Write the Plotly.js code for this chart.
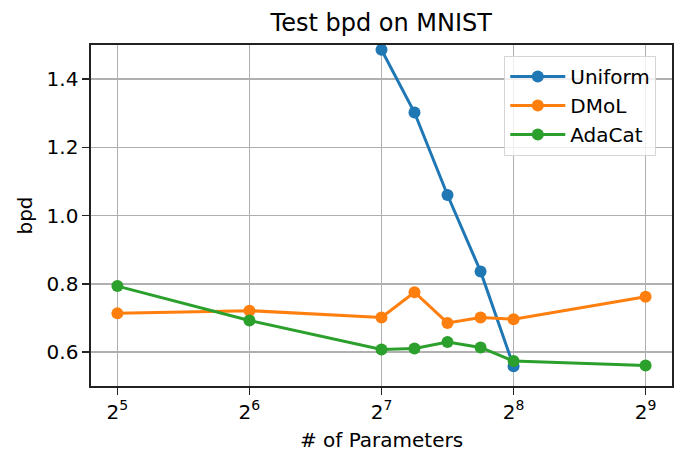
<!DOCTYPE html>
<html>
<head>
<meta charset="utf-8">
<script src="https://cdn.plot.ly/plotly-3.0.1.min.js"></script>
<style>html,body{margin:0;padding:0;background:#fff;}#chart{width:687px;height:469px;}</style>
</head>
<body>
<div id="chart"></div>
<script>
const uniformX = [128, 152.2, 181.0, 215.3, 256];
const uniformY = [1.486, 1.302, 1.060, 0.836, 0.558];
const dmolX = [32, 64, 128, 152.2, 181.0, 215.3, 256, 512];
const dmolY = [0.713, 0.721, 0.701, 0.775, 0.685, 0.701, 0.696, 0.762];
const adacatX = [32, 64, 128, 152.2, 181.0, 215.3, 256, 512];
const adacatY = [0.793, 0.692, 0.607, 0.610, 0.629, 0.613, 0.573, 0.560];
const tickVals = [32, 64, 128, 256, 512];
const tickText = ['2<sup>5</sup>', '2<sup>6</sup>', '2<sup>7</sup>', '2<sup>8</sup>', '2<sup>9</sup>'];
const yTicks = [0.6, 0.8, 1.0, 1.2, 1.4];

const font = 'DejaVu Sans, sans-serif';
function tr(name, x, y, color) {
  return {type: 'scatter', mode: 'lines+markers', name: name, x: x, y: y,
    line: {color: color, width: 3}, marker: {color: color, size: 12}};
}
const data = [
  tr('Uniform', uniformX, uniformY, '#1f77b4'),
  tr('DMoL', dmolX, dmolY, '#ff7f0e'),
  tr('AdaCat', adacatX, adacatY, '#2ca02c')
];
const axisCommon = {
  showline: true, linecolor: '#222', linewidth: 1.6, mirror: true,
  ticks: 'outside', ticklen: 7, tickwidth: 1.6, tickcolor: '#222',
  showgrid: true, gridcolor: '#b0b0b0', gridwidth: 1.6, zeroline: false,
  tickfont: {family: font, size: 20, color: '#000'}
};
const layout = {
  width: 687, height: 469,
  margin: {l: 91, r: 15, t: 45, b: 83},
  paper_bgcolor: '#fff', plot_bgcolor: '#fff',
  font: {family: font, color: '#000'},
  title: {text: 'Test bpd on MNIST', font: {family: font, size: 24, color: '#000'}, x: 0.555, xanchor: 'center', y: 0.951, yanchor: 'middle'},
  xaxis: Object.assign({}, axisCommon, {
    type: 'log', range: [4.8 * Math.LOG10E * Math.LN2, 9.2 * Math.LOG10E * Math.LN2],
    tickvals: tickVals, ticktext: tickText,
    title: {text: '# of Parameters', font: {family: font, size: 20, color: '#000'}, standoff: 10}
  }),
  yaxis: Object.assign({}, axisCommon, {
    range: [0.5, 1.5], tickvals: yTicks, ticktext: yTicks.map(v => v.toFixed(1)),
    title: {text: 'bpd', font: {family: font, size: 20, color: '#000'}, standoff: 8}
  }),
  legend: {x: 0.711, y: 0.968, xanchor: 'left', yanchor: 'top',
    bgcolor: 'rgba(255,255,255,0.8)', bordercolor: '#d5d5d5', borderwidth: 1.2,
    font: {family: font, size: 20, color: '#000'}, tracegroupgap: 0, itemwidth: 55},
  showlegend: true
};
Plotly.newPlot('chart', data, layout, {displayModeBar: false, staticPlot: true});
</script>
</body>
</html>
